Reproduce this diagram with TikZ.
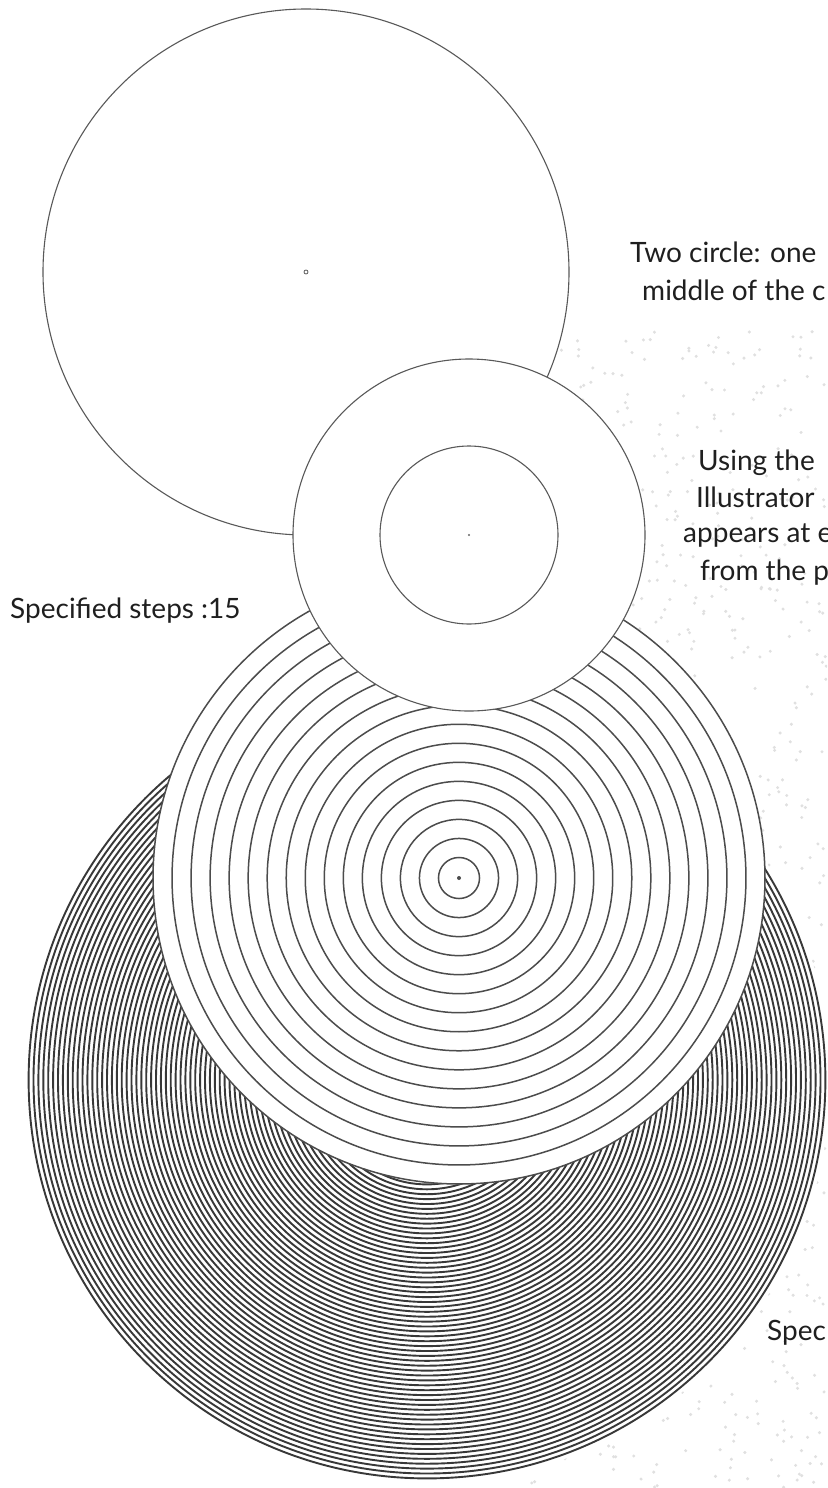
\documentclass[tikz,border=0pt]{standalone}
\usepackage{fontspec}
\setmainfont{Lato}
\begin{document}
\begin{tikzpicture}[x=1pt,y=-1pt,
  every node/.style={font=\fontsize{28}{34}\selectfont,text=black!88,inner sep=0pt},
  thin ring/.style={draw=black!65,line width=1.1pt,fill=white},
  step ring/.style={draw=black!70,line width=1.5pt},
  blend ring/.style={draw=black!78,line width=1.9pt},
  speck/.style={fill=black!12}]
\useasboundingbox (0,0) rectangle (827,1488);
\clip (0,0) rectangle (827,1488);
% paper texture on the right
\pgfmathsetseed{11}
\foreach \i in {1,...,900}{
  \pgfmathsetmacro\sx{530+rnd*297}
  \pgfmathsetmacro\sy{330+rnd*1158}
  \fill[speck] (\sx,\sy) circle[radius=1.7pt];
}
% large single circle
\coordinate (top) at (306,272);
\draw[thin ring] (top) circle[radius=263pt];
\draw[black!65,line width=0.8pt] (top) circle[radius=2pt];
% blend with many steps
\coordinate (dense) at (427,1080);
\fill[white] (dense) circle[radius=403pt];
\foreach \k in {0,...,81}
  \draw[blend ring] (dense) circle[radius={1.5pt+\k*4.9pt}];
% blend with 15 steps
\coordinate (fifteen) at (459,878);
\fill[white] (fifteen) circle[radius=306pt];
\foreach \k in {1,...,16}
  \draw[step ring] (fifteen) circle[radius={1.5pt+\k*19.03pt}];
\fill[black!70] (fifteen) circle[radius=2pt];
% two circles: one in the middle of the other
\coordinate (pair) at (469,535);
\draw[thin ring] (pair) circle[radius=176pt];
\draw[thin ring] (pair) circle[radius=89pt];
\fill[black!60] (pair) circle[radius=1.2pt];
% texts
\node[anchor=base west] (two) at (630,262) {Two circle: one};
\node[anchor=base west] (middle) at (642,300) {middle of the c};
\node[anchor=base west] (using) at (698,470) {Using the};
\node[anchor=base west] (illus) at (696,507) {Illustrator};
\node[anchor=base west] (appears) at (683,542) {appears at e};
\node[anchor=base west] (from) at (700,580) {from the p};
\node[anchor=base west] (steps) at (10,618) {Specified steps :15};
\node[anchor=base west] (spec) at (767,1340) {Spec};
\end{tikzpicture}
\end{document}
